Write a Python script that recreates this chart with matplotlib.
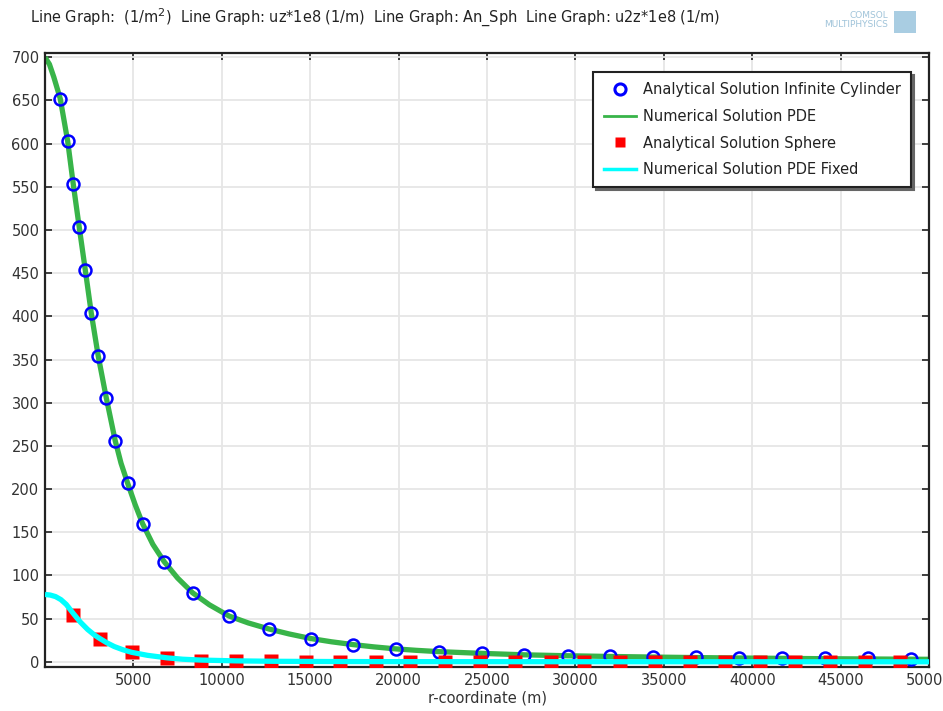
import matplotlib
matplotlib.use("Agg")
import matplotlib.pyplot as plt
from matplotlib.lines import Line2D

# ---------------- data ----------------
cyl_r = [864, 1282, 1599, 1938, 2277, 2616, 3011, 3463, 3972, 4672, 5520, 6740,
         8345, 10412, 12672, 15028, 17401, 19831, 22260, 24689, 27119, 29605,
         31977, 34407, 36836, 39266, 41695, 44124, 46554, 48983]
cyl_v = [652, 603, 553, 503, 454, 404, 354, 306, 256, 207, 160, 116,
         80, 53, 38, 27, 20, 15, 11.8, 10, 8.2, 7.2,
         6.5, 5.9, 5.4, 5.0, 4.6, 4.2, 3.9, 3.6]

pde_r = [0, 250, 500, 864, 1282, 1599, 1938, 2277, 2616, 3011, 3463, 3972, 4300,
         4672, 5100, 5520, 6100, 6740, 7500, 8345, 9300, 10412, 11500, 12672,
         13800, 15028, 16200, 17401, 18600, 19831, 21000, 22260, 24689, 27119,
         29605, 31977, 34407, 36836, 39266, 41695, 44124, 46554, 48983, 50000]
pde_v = [700, 692, 677, 652, 603, 553, 503, 454, 404, 354, 306, 256, 230,
         207, 182, 160, 136, 116, 97, 80, 66, 53, 45, 38,
         32.3, 27, 23.2, 20, 17.3, 15, 13.3, 11.8, 9.8, 8.1,
         7.0, 6.2, 5.5, 4.9, 4.4, 4.0, 3.6, 3.3, 3.0, 2.9]

sph_r = [1600, 3100, 4900, 6900, 8850, 10800, 12800, 14750, 16700, 18700, 20650,
         22650, 24600, 26600, 28600, 30500, 32550, 34500, 36500, 38450, 40450,
         42400, 44400, 46400, 48350]
sph_v = [54, 26.6, 10.8, 4.5, 1.5, 0.6, 0.4, 0.3, 0.3, 0.25, 0.2,
         0.2, 0.15, 0.15, 0.1, 0.1, 0.1, 0.1, 0.1, 0.05, 0.05,
         0.05, 0.05, 0.05, 0.05]

fix_r = [0, 300, 600, 900, 1200, 1600, 2000, 2410, 2800, 3100, 3500, 3917, 4400,
         4900, 5800, 6900, 7800, 8850, 10800, 13000, 16000, 20000, 30000, 40000,
         50000]
fix_v = [78, 77.3, 75.5, 72, 66.5, 56, 46, 37.5, 31, 27, 22, 17.7, 14,
         11, 7.5, 4.6, 3.0, 2.0, 1.1, 0.6, 0.35, 0.2, 0.1, 0.05, 0.0]

xticks = [5000, 10000, 15000, 20000, 25000, 30000, 35000, 40000, 45000, 50000]
yticks = list(range(0, 701, 50))

labels = ["Analytical Solution Infinite Cylinder", "Numerical Solution PDE",
          "Analytical Solution Sphere", "Numerical Solution PDE Fixed"]
title_text = ("Line Graph:  (1/m$^2$)  Line Graph: uz*1e8 (1/m)  "
              "Line Graph: An_Sph  Line Graph: u2z*1e8 (1/m)")
xlabel = "r-coordinate (m)"

# ---------------- styling ----------------
W, H = 943, 711
fig = plt.figure(figsize=(W / 100, H / 100), dpi=100)
ax = fig.add_axes([45 / W, (H - 667) / H, 884 / W, 614 / H])

green = "#38b449"
cyan = "#00ffff"
blue = "#0000ff"
red = "#ff0000"

ax.plot(pde_r, pde_v, color=green, lw=3.8, zorder=2, solid_capstyle="butt",
        solid_joinstyle="round")
ax.plot(cyl_r, cyl_v, ls="none", marker="o", ms=8.6, mfc="none", mec=blue,
        mew=1.8, zorder=3)
ax.plot(sph_r, sph_v, ls="none", marker="s", ms=9.5, mfc=red, mec="none",
        zorder=4)
ax.plot(fix_r, fix_v, color=cyan, lw=3.8, zorder=5, solid_capstyle="butt",
        solid_joinstyle="round")

ax.set_xlim(0, 50000)
ax.set_ylim(-6, 705)
ax.set_xticks(xticks)
ax.set_yticks(yticks)
ax.set_xticklabels([str(v) for v in xticks])
ax.set_yticklabels([str(v) for v in yticks])
ax.tick_params(direction="in", top=True, right=True, length=5, width=1.2,
               labelsize=10.5, labelcolor="#333333", color="#222222", pad=4)
ax.grid(True, color="#e6e6e6", lw=1.3, zorder=0)
ax.set_axisbelow(True)
for s in ax.spines.values():
    s.set_linewidth(1.6)
    s.set_color("#222222")

ax.set_xlabel(xlabel, fontsize=10.5, color="#333333", labelpad=2)

handles = [
    Line2D([], [], ls="none", marker="o", ms=8, mfc="none", mec=blue, mew=2.2),
    Line2D([], [], color=green, lw=2),
    Line2D([], [], ls="none", marker="s", ms=6.5, mfc=red, mec="none"),
    Line2D([], [], color=cyan, lw=2.5),
]
leg = ax.legend(handles, labels, loc="upper right",
                bbox_to_anchor=(1 - 18 / 884, 1 - 19 / 614), borderaxespad=0,
                fontsize=10.5, labelspacing=0.8, handlelength=2.2,
                handletextpad=0.5, borderpad=0.7, fancybox=False,
                shadow={"color": "#666666", "alpha": 1.0}, framealpha=1,
                edgecolor="#222222")
leg.get_frame().set_linewidth(1.5)
for t in leg.get_texts():
    t.set_color("#222222")

fig.text(30 / W, 1 - 18 / H, title_text, fontsize=11.6, va="center", ha="left",
         color="#222222", fontstretch="condensed")

fig.text(888 / W, 1 - 20 / H, "COMSOL\nMULTIPHYSICS", fontsize=6.5,
         ha="right", va="center", color="#9fc3d9", linespacing=0.9,
         multialignment="right")
fig.patches.append(plt.Rectangle((894 / W, 1 - 33 / H), 22 / W, 22 / H,
                                 transform=fig.transFigure,
                                 facecolor="#a9cde2", edgecolor="none"))

fig.savefig("out.png", dpi=100)
